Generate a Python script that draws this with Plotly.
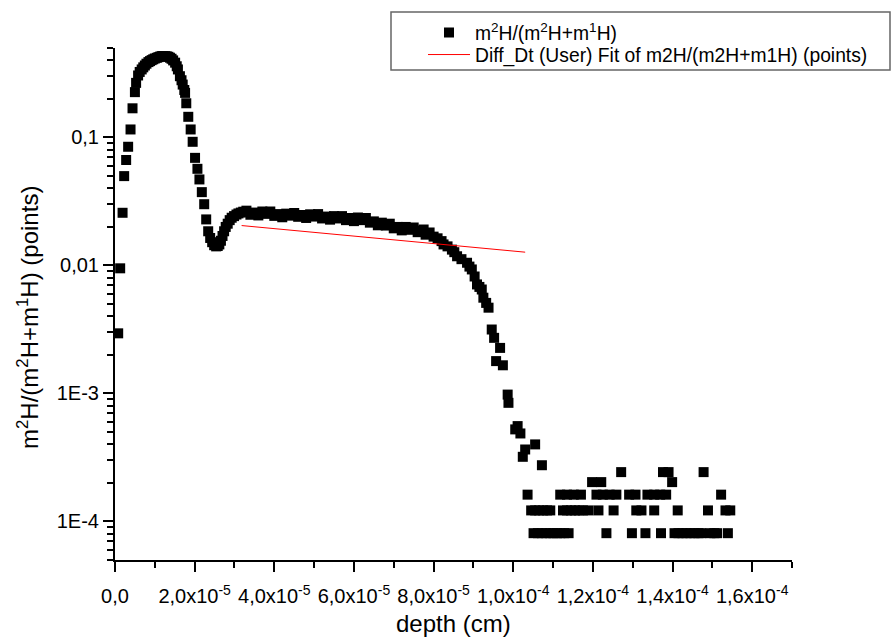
import plotly.graph_objects as go

# ---------------- data (depth in units of 1e-5 cm) ----------------
depth_surface = [0.08, 0.13, 0.19, 0.23, 0.28, 0.33, 0.39, 0.44, 0.50, 0.53, 0.58, 0.62,
                 0.67, 0.71, 0.75, 0.79, 0.84, 0.88, 0.92, 0.96, 1.00, 1.05, 1.09, 1.13,
                 1.17, 1.21, 1.26, 1.30, 1.34, 1.38, 1.42, 1.46, 1.51, 1.55, 1.58, 1.63,
                 1.67, 1.70, 1.74, 1.76, 1.79, 1.84, 1.90, 1.95, 2.01, 2.07, 2.12, 2.18,
                 2.24, 2.29, 2.34, 2.39, 2.44, 2.49, 2.54, 2.58, 2.62, 2.66, 2.70, 2.74,
                 2.78, 2.83, 2.88, 2.93, 2.99, 3.05, 3.10, 3.16, 3.22]
ratio_surface = [0.00295, 0.0095, 0.0258, 0.0499, 0.0667, 0.0846, 0.1155, 0.169, 0.226, 0.267, 0.305, 0.325,
                 0.340, 0.353, 0.365, 0.377, 0.388, 0.395, 0.402, 0.408, 0.414, 0.419, 0.424, 0.428,
                 0.432, 0.433, 0.432, 0.430, 0.427, 0.420, 0.412, 0.400, 0.384, 0.360, 0.340, 0.301,
                 0.280, 0.259, 0.235, 0.223, 0.185, 0.145, 0.1155, 0.0925, 0.0693, 0.0569, 0.047, 0.0374,
                 0.0301, 0.0229, 0.0185, 0.0164, 0.0152, 0.0144, 0.0141, 0.0142, 0.0146, 0.0156, 0.0170, 0.0185,
                 0.0200, 0.0212, 0.0226, 0.0236, 0.0243, 0.0250, 0.0255, 0.0259, 0.0263]

depth_plateau = [3.3, 3.4, 3.5, 3.6, 3.7, 3.8, 3.9, 4.0, 4.1, 4.2, 4.3, 4.4, 4.5, 4.6, 4.7,
                 4.8, 4.9, 5.0, 5.1, 5.2, 5.3, 5.4, 5.5, 5.6, 5.7, 5.8, 5.9, 6.0, 6.1, 6.2,
                 6.3, 6.4, 6.5, 6.6, 6.7, 6.8, 6.9, 7.0, 7.1, 7.2, 7.3, 7.4, 7.5, 7.6, 7.7,
                 7.75, 7.8, 7.9, 8.0]
ratio_plateau = [0.0268, 0.0249, 0.0259, 0.0246, 0.0264, 0.0253, 0.0264, 0.0244, 0.0252, 0.0238, 0.0254, 0.0245, 0.0257, 0.0240, 0.0248,
                 0.0235, 0.0251, 0.0241, 0.0252, 0.0233, 0.0241, 0.0228, 0.0243, 0.0233, 0.0243, 0.0226, 0.0235, 0.0222, 0.0237, 0.0226,
                 0.0235, 0.0216, 0.0221, 0.0206, 0.0216, 0.0205, 0.0212, 0.0195, 0.0200, 0.0188, 0.0200, 0.0190, 0.0198, 0.0182, 0.0187,
                 0.0191, 0.0174, 0.0181, 0.0168]

depth_tail = [8.1, 8.2, 8.25, 8.35, 8.46, 8.52, 8.59, 8.7, 8.84, 8.9, 8.96, 9.03, 9.09, 9.15,
              9.21, 9.25, 9.32, 9.38, 9.46, 9.52, 9.57, 9.67, 9.74, 9.86, 9.88, 10.05, 10.11,
              10.18, 10.24, 10.30, 10.36, 10.55, 10.72]
ratio_tail = [0.0163, 0.0155, 0.0146, 0.0141, 0.0133, 0.0127, 0.0118, 0.0112, 0.0105, 0.0098, 0.00931, 0.0082, 0.00711, 0.0068,
              0.00649, 0.00560, 0.0051, 0.00468, 0.00316, 0.00272, 0.00179, 0.00227, 0.00166, 0.00098, 0.000845, 0.000524, 0.000556,
              0.000487, 0.00032, 0.000365, 0.000162, 0.0004, 0.000275]

depth_floor = [10.51, 10.62, 10.72, 10.83, 10.93, 11.01, 11.10, 11.18, 11.28, 11.39, 12.34, 12.98, 13.32, 13.71,
               14.05, 14.15, 14.25, 14.35, 14.45, 14.55, 14.65, 14.72, 14.95, 15.05, 15.12, 15.39,
               10.45, 10.55, 10.65, 10.75, 10.85, 10.93, 11.25, 11.35, 11.45, 11.55, 11.65, 11.75, 11.89,
               12.14, 12.52, 13.09, 13.22, 13.54, 14.13, 14.89, 15.33, 15.45,
               11.18, 11.35, 11.52, 11.70, 12.09, 12.25, 12.42, 12.59, 12.91, 13.07, 13.37, 13.54, 13.69, 13.84, 15.22,
               11.98, 12.21, 13.99,
               12.71, 13.76, 13.90, 14.78]
ratio_floor = [8.1e-5] * 26 + [1.22e-4] * 22 + [1.62e-4] * 15 + [2.03e-4] * 3 + [2.43e-4] * 4

fit_depth = [3.18, 6.74, 10.30]
fit_ratio = [0.0205, 0.0162, 0.0127]

x_tick_vals = [0, 2, 4, 6, 8, 10, 12, 14, 16]
x_tick_text = ["0,0", "2,0x10<sup>-5</sup>", "4,0x10<sup>-5</sup>", "6,0x10<sup>-5</sup>",
               "8,0x10<sup>-5</sup>", "1,0x10<sup>-4</sup>", "1,2x10<sup>-4</sup>",
               "1,4x10<sup>-4</sup>", "1,6x10<sup>-4</sup>"]
y_tick_vals = [1e-4, 1e-3, 1e-2, 1e-1]
y_tick_text = ["1E-4", "1E-3", "0,01", "0,1"]

x_title = "depth (cm)"
y_title = "m<sup>2</sup>H/(m<sup>2</sup>H+m<sup>1</sup>H) (points)"

UNIT = 1e-5
depth_all = depth_surface + depth_plateau + depth_tail + depth_floor
ratio_all = ratio_surface + ratio_plateau + ratio_tail + ratio_floor

FONT = "Liberation Sans, Arial, sans-serif"
W, H = 892, 639

fig = go.Figure()
fig.add_trace(go.Scatter(
    x=[d * UNIT for d in depth_all], y=ratio_all, mode="markers",
    name="m<sup>2</sup>H/(m<sup>2</sup>H+m<sup>1</sup>H)",
    marker=dict(symbol="square", size=10, color="black", line=dict(width=0)),
    cliponaxis=False, legend="legend",
))
fig.add_trace(go.Scatter(
    x=[d * UNIT for d in fit_depth], y=fit_ratio, mode="lines",
    name="Diff_Dt (User) Fit of m2H/(m2H+m1H) (points)",
    line=dict(color="red", width=1), legend="legend2",
))

minor_y = [k * 10.0 ** e for e in range(-5, 0) for k in range(2, 10) if 5e-5 <= k * 10.0 ** e <= 0.5]

ML, MR, MT, MB = 115, 100, 48, 79
PW, PH = W - ML - MR, H - MT - MB

def px_x(p):
    return (p - ML) / PW

def px_y(p):
    return (H - MB - p) / PH

fig.update_layout(
    width=W, height=H,
    margin=dict(l=ML, r=MR, t=MT, b=MB, autoexpand=False),
    paper_bgcolor="white", plot_bgcolor="white",
    font=dict(family=FONT, color="black", size=20),
    showlegend=True,
    legend=dict(xref="container", yref="container", x=423 / W, y=1 - 33 / H,
                xanchor="left", yanchor="middle",
                borderwidth=0, bgcolor="rgba(0,0,0,0)",
                font=dict(size=19.3), itemwidth=42),
    legend2=dict(xref="container", yref="container", x=423 / W, y=1 - 55 / H,
                 xanchor="left", yanchor="middle",
                 borderwidth=0, bgcolor="rgba(0,0,0,0)",
                 font=dict(size=19.3), itemwidth=42),
    shapes=[dict(type="rect", xref="paper", yref="paper",
                 x0=px_x(391), x1=px_x(890), y0=px_y(70), y1=px_y(12),
                 line=dict(color="#666", width=1.5), fillcolor="white", layer="below")],
    annotations=[
        dict(text=x_title, xref="paper", yref="paper", x=px_x(453), y=px_y(639),
             xanchor="center", yanchor="bottom", showarrow=False, font=dict(size=24)),
        dict(text=y_title, xref="paper", yref="paper", x=px_x(28), y=px_y(318),
             xanchor="center", yanchor="middle", showarrow=False, textangle=-90,
             font=dict(size=24)),
    ],
)
fig.update_xaxes(
    range=[0, 1.7e-4], showgrid=False, zeroline=False, automargin=False,
    showline=True, linewidth=2, linecolor="black",
    ticks="outside", ticklen=10, tickwidth=2, tickcolor="black",
    tickmode="array", tickvals=[v * UNIT for v in x_tick_vals], ticktext=x_tick_text,
    tickfont=dict(size=20), ticklabelstandoff=7,
    minor=dict(ticks="outside", ticklen=6, tickwidth=2, tickcolor="black", dtick=UNIT, tick0=0),
)
fig.update_yaxes(
    type="log", range=[-4.30103, -0.30103], showgrid=False, zeroline=False, automargin=False,
    showline=True, linewidth=2, linecolor="black",
    ticks="outside", ticklen=10, tickwidth=2, tickcolor="black",
    tickmode="array", tickvals=y_tick_vals, ticktext=y_tick_text,
    tickfont=dict(size=20),
    minor=dict(ticks="outside", ticklen=6, tickwidth=1.5, tickcolor="black",
               tickmode="array", tickvals=minor_y),
)

fig.write_html("out.html", config={"displayModeBar": False},
               post_script="document.body.style.margin='0';")
